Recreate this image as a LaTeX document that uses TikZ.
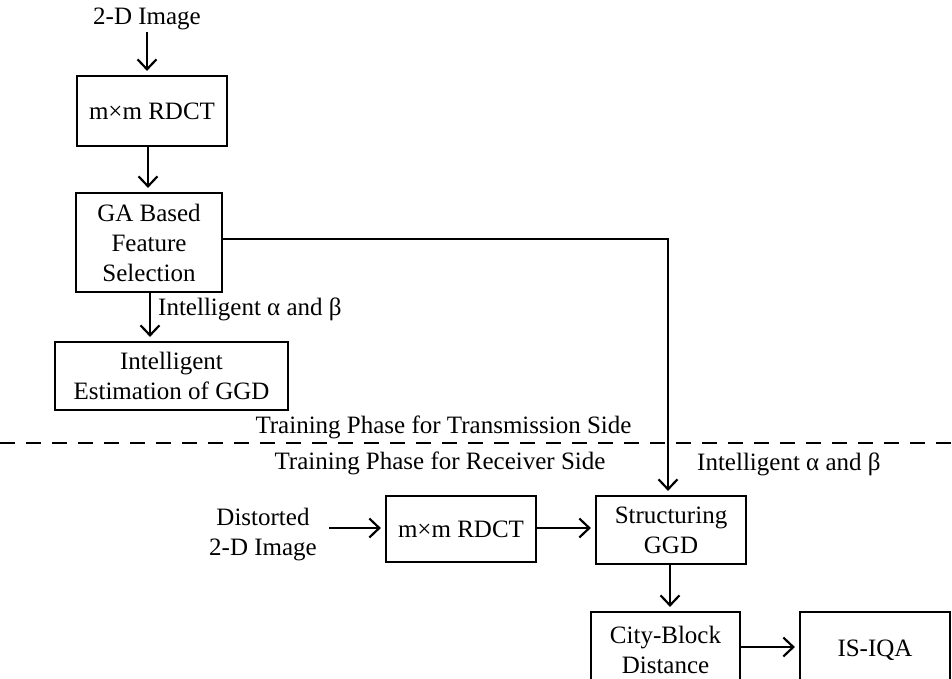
\documentclass[tikz,border=0pt]{standalone}
\usepackage{fontspec}
\setmainfont{Liberation Serif}
\usetikzlibrary{arrows.meta}
\begin{document}
\begin{tikzpicture}[x=1pt,y=-1pt,
  every node/.style={font=\fontsize{25}{30}\selectfont, inner sep=0pt, align=center},
  blk/.style={draw, line width=2.2pt, minimum width=#1},
  conn/.style={line width=2.2pt, -{Straight Barb[length=10pt,width=19pt,line width=2.2pt]}, shorten >=4pt}]
\useasboundingbox (0,0) rectangle (952,679);
\clip (0,0) rectangle (952,679);
% transmission side
\node (img) at (147,19) {2-D Image};
\node[blk=150pt, minimum height=70pt] (rdct1) at (152,111) {m×m RDCT};
\node[blk=146pt, minimum height=99pt] (ga) at (149,242.5) {GA Based\\Feature\\Selection};
\node[blk=233pt, minimum height=68pt] (est) at (171.5,376) {Intelligent\\Estimation of GGD};
\node[anchor=west] (lbl1) at (158,309) {Intelligent α and β};
% separator
\node (trans) at (443.5,427) {Training Phase for Transmission Side};
\coordinate (dl) at (0,443);
\coordinate (dr) at (952,443);
\draw[line width=2.2pt, dash pattern=on 15pt off 11pt] (dl) -- (dr);
\node (recv) at (440,463) {Training Phase for Receiver Side};
% receiver side
\node[anchor=west] (lbl2) at (697,464) {Intelligent α and β};
\node (dist) at (263,535) {Distorted\\2-D Image};
\node[blk=150pt, minimum height=66pt] (rdct2) at (461,529) {m×m RDCT};
\node[blk=150pt, minimum height=68pt] (sgg) at (671,530) {Structuring\\GGD};
\node[blk=149pt, minimum height=76pt] (cbd) at (665.5,650) {City-Block\\Distance};
\node[blk=150pt, minimum height=76pt] (isiqa) at (875,650) {IS-IQA};
% connectors
\draw[conn, shorten <=2pt] (img.south) -- (img.south |- rdct1.north);
\draw[conn] (rdct1.south -| 148,0) -- (148,0 |- ga.north);
\draw[conn] (ga.south -| 150,0) -- (150,0 |- est.north);
\draw[conn] (ga.east |- 0,239) -| (sgg.north -| 668,0);
\draw[conn] (dist.east |- 0,528) ++(12,0) -- (rdct2.west |- 0,528);
\draw[conn] (rdct2.east |- 0,528) -- (sgg.west |- 0,528);
\draw[conn] (sgg.south -| 670,0) -- (670,0 |- cbd.north);
\draw[conn] (cbd.east |- 0,647) -- (isiqa.west |- 0,647);
\end{tikzpicture}
\end{document}
